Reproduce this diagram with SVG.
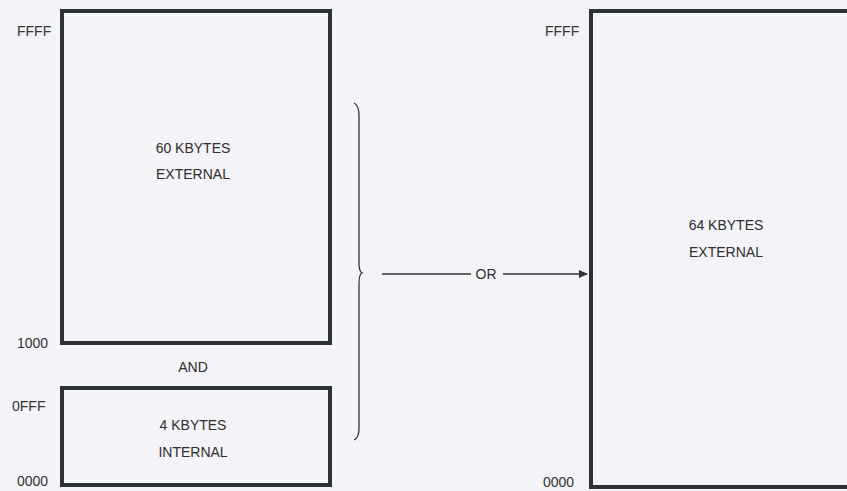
<svg xmlns="http://www.w3.org/2000/svg" width="847" height="491" viewBox="0 0 847 491">
  <defs>
    <style>
      .box { fill: none; stroke: #2c3039; stroke-width: 4; }
      .lbl { font-family: "Liberation Sans", Arial, sans-serif; font-size: 14px; fill: #2e2e2e; }
      .addr { font-family: "Liberation Sans", Arial, sans-serif; font-size: 14px; fill: #333; }
      .mid { text-anchor: middle; }
      .conn { fill: none; stroke: #333; stroke-width: 1.3; }
    </style>
    <marker id="arrow" markerWidth="10" markerHeight="10" refX="8" refY="5" orient="auto" markerUnits="userSpaceOnUse">
      <path d="M0,1 L9,5 L0,9 Z" fill="#333"/>
    </marker>
  </defs>
  <rect width="847" height="491" fill="#f4f3f7"/>

  <g id="ext60">
    <rect class="box" x="62" y="11" width="268" height="332"/>
    <text class="lbl mid" x="193" y="153">60 KBYTES</text>
    <text class="lbl mid" x="193" y="179">EXTERNAL</text>
  </g>

  <g id="int4">
    <rect class="box" x="62" y="388" width="268" height="97"/>
    <text class="lbl mid" x="193" y="430">4 KBYTES</text>
    <text class="lbl mid" x="193" y="457">INTERNAL</text>
  </g>

  <g id="ext64">
    <rect class="box" x="591" y="11" width="270" height="476"/>
    <text class="lbl mid" x="726" y="230">64 KBYTES</text>
    <text class="lbl mid" x="726" y="257">EXTERNAL</text>
  </g>

  <g id="addresses">
    <text class="addr" x="17" y="36">FFFF</text>
    <text class="addr" x="17" y="348">1000</text>
    <text class="addr" x="12" y="411">0FFF</text>
    <text class="addr" x="17" y="486">0000</text>
    <text class="addr" x="545" y="36">FFFF</text>
    <text class="addr" x="543" y="487">0000</text>
    <text class="lbl mid" x="193" y="372">AND</text>
  </g>

  <g id="connectors">
    <path class="conn" d="M354,103 Q359,105 359,116 L359,262 Q359,272 362,273 Q359,274 359,284 L359,428 Q359,438 354,440"/>
    <line class="conn" x1="382" y1="274" x2="471" y2="274"/>
    <text class="lbl mid" x="486" y="279">OR</text>
    <line class="conn" x1="503" y1="274" x2="587" y2="274" marker-end="url(#arrow)"/>
  </g>
</svg>
